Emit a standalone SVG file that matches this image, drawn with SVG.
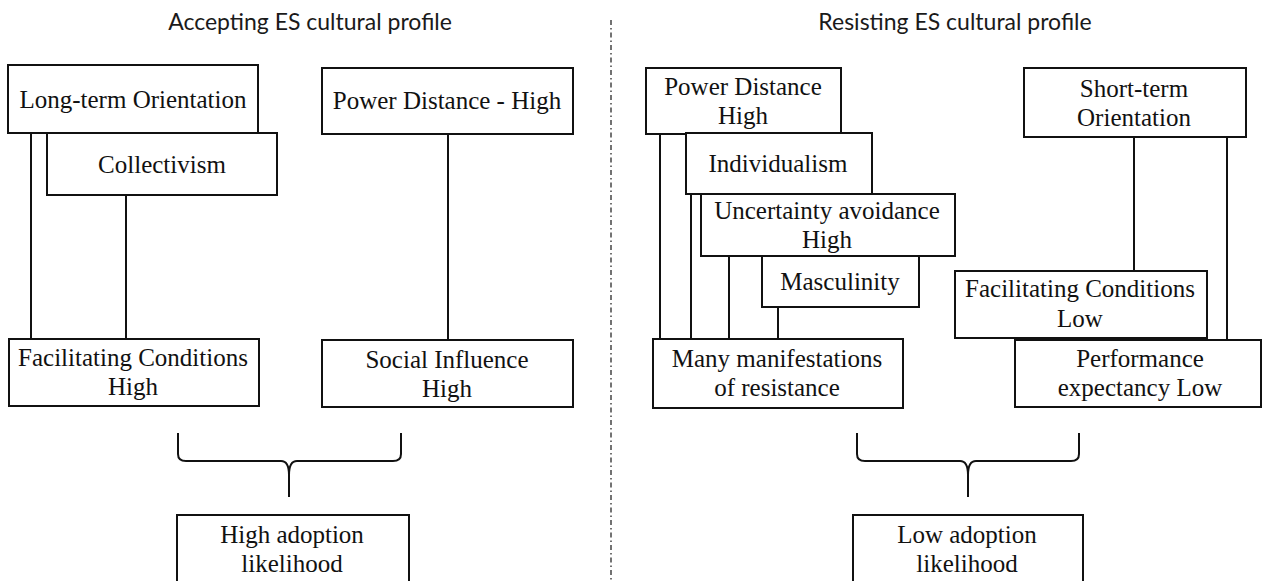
<svg xmlns="http://www.w3.org/2000/svg" width="1264" height="581" viewBox="0 0 1264 581">
<style>
.box{fill:#fff;stroke:#111;stroke-width:2}
.t{font-family:"Liberation Serif","Times New Roman",serif;font-size:25px;fill:#111;text-anchor:middle}
.h{font-family:Lato,"Open Sans",sans-serif;font-size:23px;fill:#1a1a1a;text-anchor:middle}
.ln{stroke:#111;stroke-width:2;fill:none}
</style>
<rect width="1264" height="581" fill="#fff"/>
<text class="h" x="310" y="30">Accepting ES cultural profile</text>
<text class="h" x="955" y="30">Resisting ES cultural profile</text>
<line x1="611" y1="20" x2="611" y2="581" stroke="#444" stroke-width="1.5" stroke-dasharray="5 3 1.5 3"/>
<g id="connectors">
<path class="ln" d="M31 134V339M126 195V339M448 134V340"/>
<path class="ln" d="M660 134V339M691 194V339M729 256V339M778 307V339"/>
<path class="ln" d="M1134 137V271M1227 137V340"/>
<path class="ln" d="M178 433V454Q178 461 186 461H281Q289 461 289 475V497M289 475Q289 461 297 461H393Q401 461 401 454V433"/>
<path class="ln" d="M857 433V454Q857 461 865 461H960Q968 461 968 475V497M968 475Q968 461 976 461H1071Q1079 461 1079 454V433"/>
</g>
<g id="lto"><rect class="box" x="8" y="65" width="250" height="68"/><text class="t" x="133" y="108">Long-term Orientation</text></g>
<g id="coll"><rect class="box" x="47" y="133" width="230" height="62"/><text class="t" x="162" y="173">Collectivism</text></g>
<g id="pdh"><rect class="box" x="322" y="68" width="251" height="66"/><text class="t" x="447" y="109">Power Distance - High</text></g>
<g id="fch"><rect class="box" x="9" y="339" width="250" height="67"/><text class="t" x="133" y="366">Facilitating Conditions</text><text class="t" x="133" y="395">High</text></g>
<g id="sih"><rect class="box" x="322" y="340" width="251" height="67"/><text class="t" x="447" y="368">Social Influence</text><text class="t" x="447" y="397">High</text></g>
<g id="hal"><rect class="box" x="177" y="515" width="232" height="70"/><text class="t" x="292" y="543">High adoption</text><text class="t" x="292" y="572">likelihood</text></g>
<g id="pd2"><rect class="box" x="646" y="68" width="195" height="66"/><text class="t" x="743" y="95">Power Distance</text><text class="t" x="743" y="124">High</text></g>
<g id="ind"><rect class="box" x="686" y="133" width="186" height="61"/><text class="t" x="778" y="172">Individualism</text></g>
<g id="ua"><rect class="box" x="701" y="194" width="254" height="62"/><text class="t" x="827" y="219">Uncertainty avoidance</text><text class="t" x="827" y="248">High</text></g>
<g id="mas"><rect class="box" x="762" y="256" width="157" height="51"/><text class="t" x="840" y="290">Masculinity</text></g>
<g id="sto"><rect class="box" x="1024" y="68" width="222" height="69"/><text class="t" x="1134" y="97">Short-term</text><text class="t" x="1134" y="126">Orientation</text></g>
<g id="fcl"><rect class="box" x="955" y="271" width="252" height="67"/><text class="t" x="1080" y="297">Facilitating Conditions</text><text class="t" x="1080" y="327">Low</text></g>
<g id="mmr"><rect class="box" x="653" y="339" width="250" height="69"/><text class="t" x="777" y="367">Many manifestations</text><text class="t" x="777" y="396">of resistance</text></g>
<g id="pel"><rect class="box" x="1015" y="340" width="246" height="67"/><text class="t" x="1140" y="367">Performance</text><text class="t" x="1140" y="396">expectancy Low</text></g>
<g id="lal"><rect class="box" x="853" y="515" width="230" height="70"/><text class="t" x="967" y="543">Low adoption</text><text class="t" x="967" y="572">likelihood</text></g>
</svg>
